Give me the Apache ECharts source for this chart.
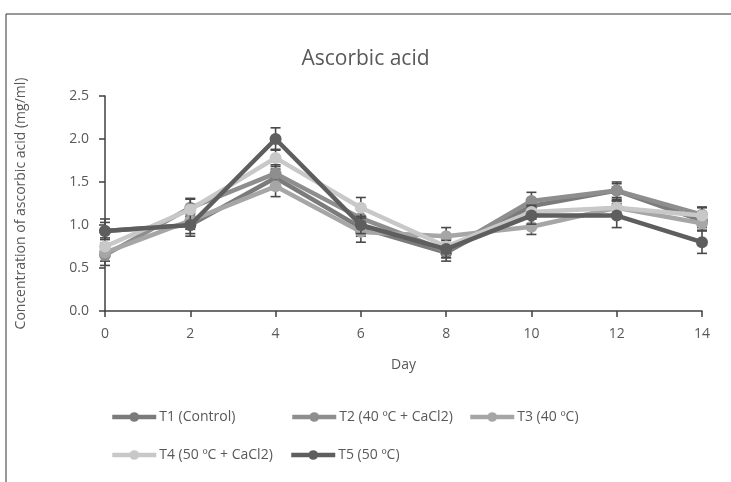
<!DOCTYPE html>
<html><head><meta charset="utf-8">
<script src="https://cdn.jsdelivr.net/npm/echarts@6/dist/echarts.min.js"></script>
<style>html,body{margin:0;padding:0;background:#fff}#c{width:731px;height:482px}</style>
</head><body><div id="c"></div>
<script>
const days = [0, 2, 4, 6, 8, 10, 12, 14];
const names = ['T1 (Control)', 'T2 (40 ºC + CaCl2)', 'T3 (40 ºC)', 'T4 (50 ºC + CaCl2)', 'T5 (50 ºC)'];
const t1 = [0.93, 1.00, 1.55, 0.97, 0.68, 1.22, 1.40, 1.05];
const t2 = [0.65, 1.20, 1.60, 1.08, 0.70, 1.28, 1.40, 1.12];
const t3 = [0.68, 1.05, 1.45, 0.92, 0.87, 0.98, 1.20, 1.02];
const t4 = [0.75, 1.18, 1.78, 1.20, 0.75, 1.15, 1.20, 1.11];
const t5 = [0.93, 1.00, 2.00, 1.00, 0.72, 1.11, 1.11, 0.80];
const e1 = [0.10, 0.10, 0.10, 0.10, 0.10, 0.08, 0.08, 0.08];
const e2 = [0.12, 0.10, 0.10, 0.10, 0.08, 0.10, 0.10, 0.08];
const e3 = [0.10, 0.10, 0.12, 0.12, 0.10, 0.09, 0.08, 0.08];
const e4 = [0.10, 0.13, 0.10, 0.12, 0.08, 0.08, 0.08, 0.10];
const e5 = [0.14, 0.13, 0.13, 0.10, 0.10, 0.10, 0.14, 0.13];
const yTicks = ['0.0', '0.5', '1.0', '1.5', '2.0', '2.5'];

const vals = [t1, t2, t3, t4, t5];
const errs = [e1, e2, e3, e4, e5];
const colors = ['#7b7b7b', '#8e8e8e', '#a6a6a6', '#c8c8c8', '#5e5e5e'];
const txt = '#595959';
const font = 'Open Sans';

const series = [];
vals.forEach((v, i) => {
  series.push({
    name: names[i], type: 'line', z: 3 + i,
    data: days.map((d, j) => [d, v[j]]),
    symbol: 'circle', symbolSize: 12,
    lineStyle: { width: 4.5, color: colors[i] },
    itemStyle: { color: colors[i] },
    emphasis: { disabled: true }
  });
});
vals.forEach((v, i) => {
  series.push({
    type: 'custom', z: 2 + i, silent: true,
    data: days.map((d, j) => [d, v[j] - errs[i][j], v[j] + errs[i][j]]),
    renderItem: (params, api) => {
      const lo = api.coord([api.value(0), api.value(1)]);
      const hi = api.coord([api.value(0), api.value(2)]);
      const w = 5;
      const st = { stroke: '#4a4a4a', lineWidth: 1.6 };
      return { type: 'group', children: [
        { type: 'line', shape: { x1: lo[0], y1: lo[1], x2: hi[0], y2: hi[1] }, style: st },
        { type: 'line', shape: { x1: lo[0] - w, y1: lo[1], x2: lo[0] + w, y2: lo[1] }, style: st },
        { type: 'line', shape: { x1: hi[0] - w, y1: hi[1], x2: hi[0] + w, y2: hi[1] }, style: st }
      ]};
    }
  });
});

const legendPos = [[105, 405], [285, 405], [463, 405], [105, 443], [284, 443]];
const legend = names.map((n, i) => ({
  data: [n], left: legendPos[i][0], top: legendPos[i][1],
  itemWidth: 44, itemHeight: 12, itemGap: 4, selectedMode: false,
  lineStyle: { width: 4.5 },
  textStyle: { color: txt, fontSize: 14, fontFamily: font, padding: [0, 0, 0, -2] }
}));

const chart = echarts.init(document.getElementById('c'), null, { renderer: 'canvas' });
chart.setOption({
  animation: false,
  backgroundColor: '#fff',
  textStyle: { fontFamily: font },
  graphic: [{ type: 'rect', shape: { x: 6, y: 14, width: 800, height: 600 }, style: { fill: 'none', stroke: '#333', lineWidth: 1 }, silent: true }],
  title: { text: 'Ascorbic acid', left: 'center', top: 44, textStyle: { color: txt, fontSize: 21, fontWeight: 'normal', fontFamily: font } },
  legend: legend,
  grid: { left: 105, right: 29, top: 96, bottom: 171, containLabel: false },
  xAxis: {
    type: 'value', min: 0, max: 14, interval: 2,
    name: 'Day', nameLocation: 'middle', nameGap: 47,
    nameTextStyle: { color: txt, fontSize: 14, fontFamily: font },
    axisLine: { lineStyle: { color: '#404040', width: 1.5 } },
    axisTick: { show: true, length: 6, lineStyle: { color: '#404040', width: 1.5 } },
    axisLabel: { color: txt, fontSize: 14, margin: 16, fontFamily: font },
    splitLine: { show: false }
  },
  yAxis: {
    type: 'value', min: 0, max: 2.5, interval: 0.5,
    name: 'Concentration of ascorbic acid (mg/ml)', nameLocation: 'middle', nameGap: 77,
    nameTextStyle: { color: txt, fontSize: 14, fontFamily: font },
    axisLine: { show: true, lineStyle: { color: '#404040', width: 1.5 } },
    axisTick: { show: true, length: 6, lineStyle: { color: '#404040', width: 1.5 } },
    axisLabel: { color: txt, fontSize: 14, margin: 16, fontFamily: font, formatter: (v) => yTicks[Math.round(v / 0.5)] },
    splitLine: { show: false }
  },
  series: series
});
</script></body></html>
